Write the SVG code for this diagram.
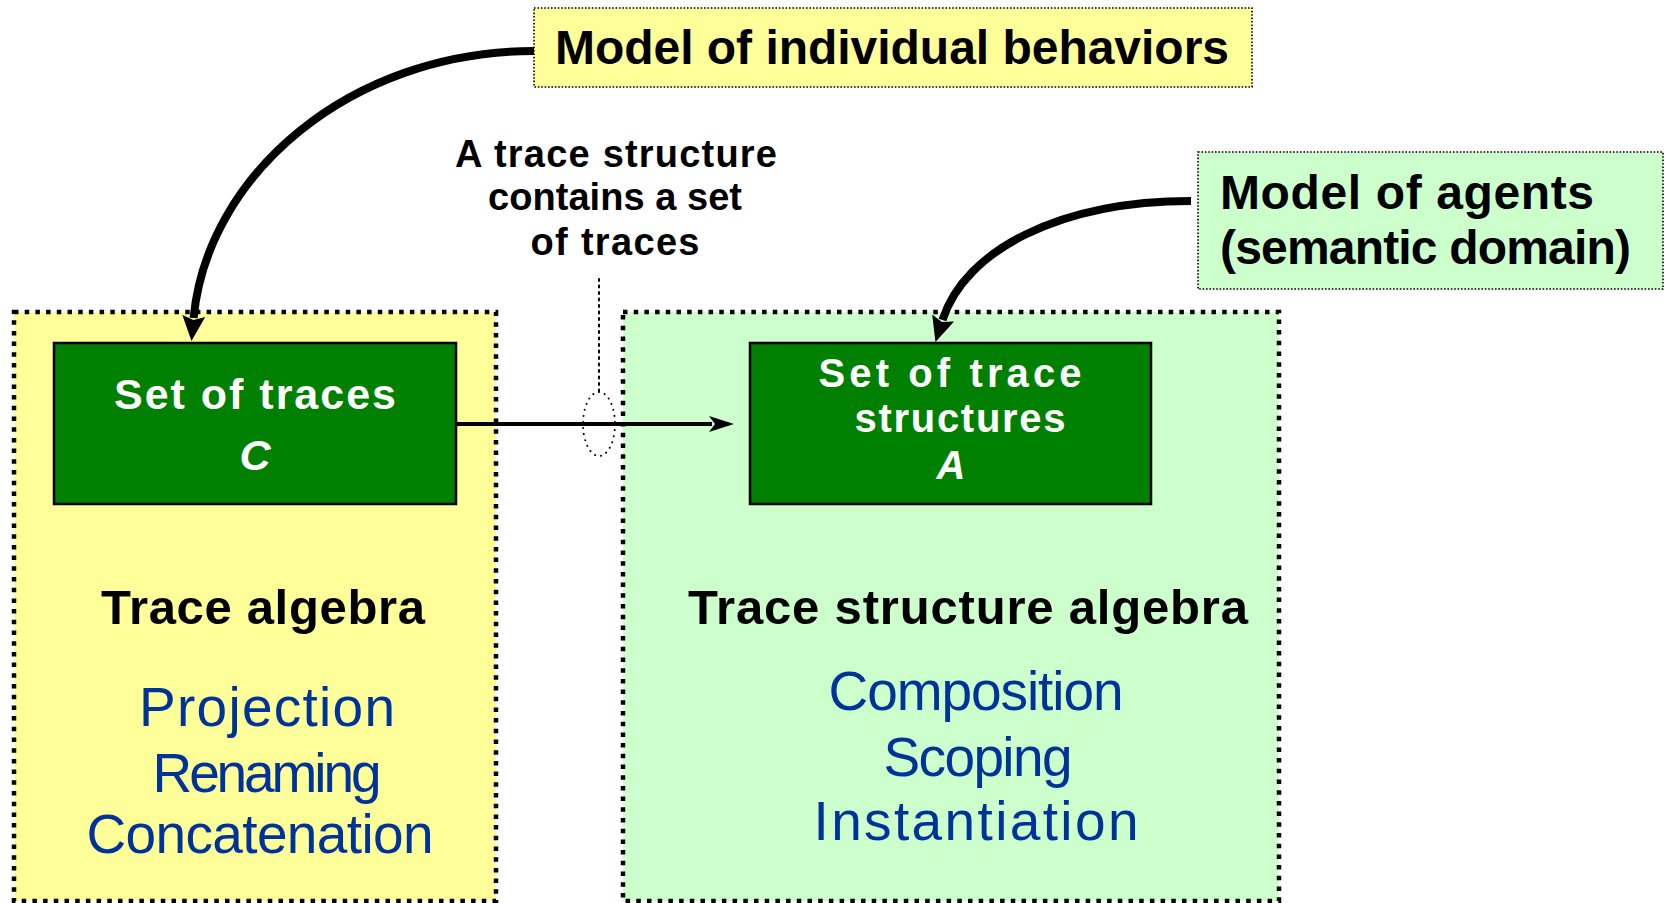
<svg xmlns="http://www.w3.org/2000/svg" width="1666" height="903" viewBox="0 0 1666 903">
<style>
.bg{fill:#ffffff}
.cont{stroke:#000;stroke-width:4.5;stroke-dasharray:4.5 6.2}
.note{stroke:#000;stroke-width:1.6;stroke-dasharray:1.6 1.8}
.yel{fill:#FFFF99}
.grn{fill:#CCFFCC}
.inner{fill:#008000;stroke:#000;stroke-width:2.5}
text{font-family:"Liberation Sans",Arial,sans-serif;text-anchor:middle}
.hd{font-weight:bold;fill:#000}
.wt{font-weight:bold;fill:#fff}
.op{fill:#003399}
.conn{fill:none;stroke:#000}
</style>
<defs>
<marker id="big" markerUnits="userSpaceOnUse" markerWidth="26" markerHeight="26" viewBox="0 0 26 26" refX="2" refY="13" orient="auto">
<path d="M0,1.5 L25,13 L0,24.5 L4,13 z" fill="#000"/>
</marker>
<marker id="small" markerUnits="userSpaceOnUse" markerWidth="26" markerHeight="18" viewBox="0 0 26 18" refX="3" refY="9" orient="auto">
<path d="M0,1 L25,9 L0,17 L6,9 z" fill="#000"/>
</marker>
</defs>
<rect class="bg" x="0" y="0" width="1666" height="903"/>

<g id="trace-algebra">
<rect class="yel cont" x="14" y="312" width="482" height="589"/>
<text class="hd" x="263" y="624" font-size="49" textLength="324">Trace algebra</text>
<text class="op" x="267" y="726" font-size="55" textLength="256">Projection</text>
<text class="op" x="267" y="792" font-size="55" textLength="229">Renaming</text>
<text class="op" x="260" y="853" font-size="55" textLength="347">Concatenation</text>
</g>

<g id="trace-structure-algebra">
<rect class="grn cont" x="623" y="312" width="656" height="589"/>
<text class="hd" x="968" y="624" font-size="49" textLength="560">Trace structure algebra</text>
<text class="op" x="976" y="710" font-size="55" textLength="295">Composition</text>
<text class="op" x="978" y="776" font-size="55" textLength="189">Scoping</text>
<text class="op" x="976" y="840" font-size="55" textLength="325">Instantiation</text>
</g>

<g id="set-of-traces">
<rect class="inner" x="54" y="343" width="402" height="161"/>
<text class="wt" x="255" y="409" font-size="43" textLength="282">Set of traces</text>
<text class="wt" x="255" y="470" font-size="43" font-style="italic">C</text>
</g>

<g id="set-of-trace-structures">
<rect class="inner" x="750" y="343" width="401" height="161"/>
<text class="wt" x="950" y="387" font-size="40" textLength="263">Set of trace</text>
<text class="wt" x="960" y="432" font-size="40" textLength="211">structures</text>
<text class="wt" x="951" y="479" font-size="40" font-style="italic">A</text>
</g>

<g id="model-individual-behaviors">
<rect class="yel note" x="534" y="8" width="718" height="79"/>
<text class="hd" x="892" y="64" font-size="48" textLength="674">Model of individual behaviors</text>
</g>

<g id="model-of-agents">
<rect class="grn note" x="1198" y="152" width="465" height="137"/>
<text class="hd" x="1220" y="209" font-size="48" style="text-anchor:start" textLength="374">Model of agents</text>
<text class="hd" x="1220" y="264" font-size="48" style="text-anchor:start" textLength="411">(semantic domain)</text>
</g>

<g id="annotation">
<text class="hd" x="616" y="167" font-size="38" textLength="322">A trace structure</text>
<text class="hd" x="615" y="210" font-size="38" textLength="254">contains a set</text>
<text class="hd" x="615" y="255" font-size="38" textLength="169">of traces</text>
<line x1="599" y1="279" x2="599" y2="391" stroke="#000" stroke-width="2" stroke-dasharray="2 4.5" stroke-linecap="round"/>
<ellipse cx="599" cy="424" rx="16" ry="32" fill="none" stroke="#000" stroke-width="2" stroke-dasharray="0.1 6" stroke-linecap="round"/>
</g>

<g id="connectors">
<path class="conn" d="M534,51 C350,51 207,175 193.6,318" stroke-width="8" marker-end="url(#big)"/>
<path class="conn" d="M1191,201 C1060,201 965,250 942.5,320" stroke-width="8" marker-end="url(#big)"/>
<path class="conn" d="M456,424 L712,424" stroke-width="4" marker-end="url(#small)"/>
</g>
</svg>
